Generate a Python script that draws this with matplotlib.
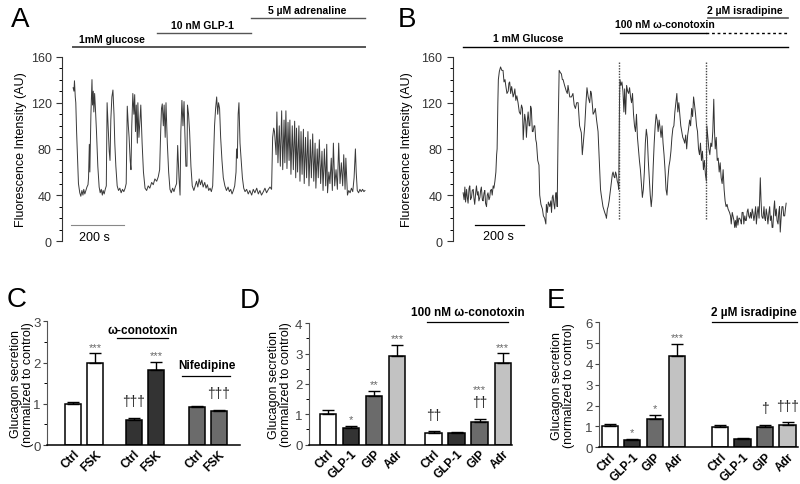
import matplotlib.pyplot as plt
from matplotlib.ticker import MultipleLocator

plt.rcParams['font.family'] = ['Liberation Sans', 'DejaVu Sans']

# ---- panel A trace: time (s) and fluorescence (AU)
a_time = [1, 4, 6, 9, 11, 14, 18, 21, 26, 30, 34, 38, 41, 45, 49, 53, 57, 59, 62, 64,
          68, 72, 74, 77, 79, 82, 85, 89, 94, 99, 103, 107, 111, 114, 118, 122, 126, 129, 133, 137,
          140, 143, 147, 151, 155, 158, 162, 167, 172, 177, 182, 187, 192, 197, 201, 205, 209, 212, 216, 219,
          222, 226, 230, 233, 236, 239, 243, 245, 249, 253, 256, 261, 266, 272, 278, 284, 290, 297, 303, 309,
          316, 322, 327, 331, 334, 337, 341, 344, 348, 351, 356, 361, 366, 371, 376, 381, 386, 391, 395, 400,
          404, 407, 411, 415, 419, 422, 426, 430, 432, 436, 440, 445, 450, 456, 461, 466, 471, 476, 481, 486,
          491, 497, 502, 507, 512, 517, 522, 527, 530, 534, 538, 542, 546, 549, 553, 557, 562, 567, 573, 579,
          585, 590, 595, 600, 605, 610, 615, 617, 620, 623, 626, 630, 634, 639, 644, 649, 655, 661, 667, 674,
          680, 686, 693, 699, 705, 711, 718, 724, 730, 737, 743, 749, 753, 757, 760, 766, 769, 773, 778, 782,
          787, 791, 796, 799, 803, 807, 811, 815, 818, 822, 827, 831, 836, 840, 843, 847, 852, 856, 860, 864,
          869, 872, 877, 881, 886, 890, 895, 899, 904, 908, 913, 916, 921, 925, 929, 934, 939, 943, 948, 953,
          957, 960, 965, 969, 974, 978, 982, 987, 992, 997, 1002, 1007, 1012, 1017, 1021, 1026, 1029, 1035, 1040, 1045,
          1050, 1055, 1060, 1065, 1068, 1072, 1077, 1082, 1087, 1092, 1097, 1101]
a_value = [133, 130, 139, 125, 120, 95, 70, 50, 42, 39, 44, 40, 45, 41, 44, 47, 49, 55, 84, 60,
           110, 140, 118, 130, 112, 128, 115, 95, 65, 47, 42, 45, 40, 44, 41, 45, 48, 120, 100, 78,
           70, 105, 125, 131, 110, 85, 65, 48, 44, 46, 42, 45, 43, 46, 50, 117, 100, 90, 70, 62,
           100, 128, 110, 127, 95, 118, 85, 120, 90, 105, 118, 85, 60, 46, 44, 48, 46, 51, 49, 54,
           52, 56, 62, 95, 115, 119, 100, 118, 90, 120, 85, 60, 45, 42, 46, 43, 47, 50, 83, 55,
           40, 95, 122, 100, 121, 95, 65, 65, 118, 110, 95, 65, 48, 44, 48, 52, 47, 54, 49, 53,
           47, 51, 46, 49, 44, 46, 43, 48, 70, 100, 115, 125, 110, 120, 115, 90, 70, 55, 48, 44,
           47, 43, 45, 41, 44, 48, 60, 80, 72, 110, 120, 85, 72, 55, 46, 43, 45, 41, 44, 40,
           45, 42, 46, 41, 44, 40, 43, 46, 42, 45, 47, 45, 90, 98, 95, 75, 112, 68, 100, 65,
           113, 62, 105, 68, 113, 63, 103, 70, 105, 58, 100, 62, 104, 55, 98, 60, 100, 52, 95, 58,
           97, 50, 90, 55, 95, 48, 88, 55, 93, 52, 85, 46, 80, 55, 88, 50, 78, 44, 80, 48,
           84, 42, 60, 50, 72, 44, 85, 48, 62, 45, 85, 50, 68, 48, 75, 45, 72, 40, 44, 42,
           46, 43, 55, 80, 60, 44, 42, 45, 43, 45, 43, 44]

# ---- panel B trace
b_time = [0, 4, 7, 10, 14, 17, 20, 24, 27, 30, 34, 37, 41, 44, 47, 51, 54, 58, 61, 64,
          68, 71, 74, 78, 81, 85, 88, 91, 95, 98, 101, 105, 108, 111, 115, 118, 122, 125, 129, 133,
          136, 138, 141, 143, 147, 152, 157, 162, 166, 170, 173, 178, 183, 186, 189, 193, 197, 200, 203, 207,
          210, 214, 218, 223, 228, 233, 237, 241, 244, 247, 250, 254, 257, 261, 264, 268, 271, 274, 277, 281,
          284, 288, 291, 295, 298, 303, 308, 311, 316, 322, 326, 331, 336, 338, 342, 346, 352, 356, 359, 362,
          365, 369, 372, 376, 379, 382, 386, 390, 395, 399, 403, 406, 412, 419, 423, 426, 433, 440, 446, 451,
          456, 461, 467, 473, 480, 484, 488, 494, 499, 503, 508, 514, 518, 521, 525, 528, 533, 537, 542, 548,
          551, 555, 558, 561, 568, 575, 580, 582, 586, 589, 593, 597, 602, 606, 609, 613, 616, 619, 622, 626,
          629, 632, 635, 637, 641, 645, 649, 653, 656, 660, 664, 668, 672, 676, 680, 684, 688, 692, 696, 700,
          704, 708, 712, 716, 720, 724, 728, 732, 736, 740, 744, 748, 752, 756, 760, 764, 768, 772, 776, 780,
          784, 788, 792, 796, 800, 804, 808, 812, 816, 820, 824, 828, 832, 836, 840, 844, 848, 852, 856, 860,
          864, 868, 872, 876, 880, 884, 888, 892, 896, 900, 904, 908, 912, 916, 920, 924, 928, 932, 936, 940,
          944, 948, 952, 956, 960, 964, 968, 972, 976, 980, 984, 988, 990, 994, 998, 1002, 1006, 1010, 1014, 1018,
          1021, 1024, 1028, 1032, 1036, 1040, 1044, 1048, 1052, 1056, 1060, 1064, 1068, 1072, 1076, 1080, 1082, 1086, 1089, 1093,
          1096, 1100, 1103, 1106, 1109, 1113, 1116, 1120, 1123, 1127, 1130, 1133, 1137, 1140, 1144, 1147, 1150, 1154, 1157, 1160,
          1164, 1167, 1171, 1174, 1177, 1181, 1184, 1188, 1191, 1195, 1198, 1202, 1205, 1207, 1210, 1213, 1216, 1218, 1222, 1225,
          1228, 1231, 1235, 1238, 1242, 1245, 1248, 1252, 1255, 1258, 1262, 1265, 1268, 1272, 1275, 1279, 1282, 1285, 1288, 1292,
          1295, 1299, 1302, 1306, 1309, 1312]
b_value = [42, 36, 47, 34, 45, 38, 33, 46, 48, 36, 38, 44, 45, 37, 32, 42, 48, 40, 43, 35,
           38, 44, 47, 36, 35, 42, 44, 33, 30, 40, 42, 36, 38, 44, 45, 40, 48, 46, 52, 60,
           75, 80, 120, 140, 147, 151, 148, 148, 138, 140, 135, 128, 130, 137, 138, 128, 134, 130, 125, 128,
           132, 122, 126, 120, 112, 110, 118, 115, 88, 100, 110, 104, 90, 105, 112, 100, 100, 117, 115, 95,
           95, 100, 100, 88, 85, 70, 66, 40, 32, 28, 22, 20, 15, 32, 25, 34, 30, 35, 25, 38,
           40, 32, 28, 42, 42, 30, 100, 148, 146, 145, 140, 140, 135, 130, 128, 135, 125, 125, 128, 118,
           115, 120, 120, 100, 94, 75, 85, 100, 120, 133, 125, 120, 130, 128, 118, 110, 112, 115, 105, 95,
           80, 60, 45, 40, 30, 25, 22, 20, 28, 30, 35, 42, 50, 58, 60, 56, 55, 60, 58, 52,
           50, 45, 120, 140, 135, 138, 130, 112, 132, 110, 135, 130, 128, 133, 125, 120, 128, 110, 100, 95,
           110, 90, 80, 70, 62, 50, 38, 45, 60, 85, 97, 90, 70, 55, 40, 30, 40, 65, 85, 100,
           110, 105, 95, 105, 98, 90, 100, 85, 75, 62, 45, 40, 55, 65, 70, 78, 90, 98, 100, 112,
           120, 128, 112, 120, 110, 100, 95, 90, 88, 85, 92, 80, 92, 98, 105, 100, 115, 108, 125, 118,
           110, 100, 95, 80, 75, 85, 70, 78, 62, 70, 58, 52, 100, 90, 80, 75, 85, 82, 95, 123,
           95, 80, 90, 70, 72, 60, 68, 55, 50, 62, 45, 35, 30, 32, 28, 26, 25, 22, 15, 25,
           22, 18, 12, 18, 12, 22, 14, 20, 20, 18, 15, 25, 25, 15, 22, 18, 18, 26, 28, 22,
           20, 25, 20, 28, 25, 18, 22, 30, 15, 25, 30, 20, 40, 55, 35, 22, 20, 20, 30, 20,
           18, 28, 22, 15, 25, 30, 18, 22, 12, 12, 28, 35, 22, 28, 18, 15, 25, 30, 8, 22,
           30, 30, 22, 22, 28, 33]
b_markers = [632, 988]   # dotted lines where drugs were added

# ---- panel C
c_labels = ['Ctrl', 'FSK', 'Ctrl', 'FSK', 'Ctrl', 'FSK']
c_mean = [1.0, 2.0, 0.6, 1.82, 0.93, 0.83]
c_err = [0.05, 0.22, 0.05, 0.2, 0.02, 0.03]
c_star = ['', '***', '', '***', '', '']
c_dagger = ['', '', '†††', '', '', '†††']

# ---- panels D and E
de_labels = ['Ctrl', 'GLP-1', 'GIP', 'Adr', 'Ctrl', 'GLP-1', 'GIP', 'Adr']
d_mean = [1.0, 0.55, 1.6, 2.92, 0.4, 0.4, 0.76, 2.68]
d_err = [0.15, 0.08, 0.18, 0.38, 0.04, 0.03, 0.09, 0.34]
d_star = ['', '*', '**', '***', '', '', '***', '***']
d_dagger = ['', '', '', '', '††', '', '††', '']
e_mean = [1.0, 0.33, 1.38, 4.38, 0.97, 0.38, 0.97, 1.05]
e_err = [0.12, 0.07, 0.19, 0.59, 0.11, 0.07, 0.11, 0.15]
e_star = ['', '*', '*', '***', '', '', '', '']
e_dagger = ['', '', '', '', '', '', '†', '†††']

WHITE, DARK, GRAY, LIGHT = 'white', '#333333', '#6b6b6b', '#c2c2c2'

fig = plt.figure(figsize=(8, 4.85), dpi=100)


def trace_axes(rect, xlim, label_x):
    ax = fig.add_axes(rect)
    ax.set_xlim(*xlim)
    ax.set_ylim(0, 160)
    for s in ['top', 'right', 'bottom']:
        ax.spines[s].set_visible(False)
    ax.spines['left'].set_color('#333333')
    ax.set_xticks([])
    ax.set_yticks([0, 40, 80, 120, 160])
    ax.yaxis.set_minor_locator(MultipleLocator(10))
    ax.tick_params(axis='y', labelsize=9, length=4, width=0.8, colors='#333333')
    ax.tick_params(axis='y', which='minor', length=2.5, width=0.7)
    ax.set_ylabel('Fluorescence Intensity (AU)', fontsize=9)
    ax.yaxis.set_label_coords(label_x, 0.5)
    return ax


# ---------- A
axA = trace_axes([0.0775, 0.5004, 0.385, 0.381], (-41, 1120), -0.114)
axA.plot(a_time, a_value, color='#3a3a3a', lw=0.7)
axA.plot([-8, 193], [14, 14], color='#888888', lw=0.8, clip_on=False)
axA.text(24, 4, '200 s', fontsize=9, va='center', ha='left')
hdrA = dict(fontsize=7.5, fontweight='bold', ha='center', va='center')
axA.plot([-1, 1101], [168, 168], color='#555555', lw=1.4, clip_on=False)
axA.text(146, 175.5, '1mM glucose', **hdrA)
axA.plot([316, 670], [180, 180], color='#555555', lw=1.0, clip_on=False)
axA.text(490, 187.5, '10 nM GLP-1', **hdrA)
axA.plot([670, 1101], [193, 193], color='#555555', lw=1.0, clip_on=False)
axA.text(882, 200, '5 µM adrenaline', **hdrA)

# ---------- B
axB = trace_axes([0.566, 0.5004, 0.421, 0.381], (-42, 1326), -0.119)
axB.plot(b_time, b_value, color='#333333', lw=0.7)
for m in b_markers:
    axB.plot([m, m], [19, 156], color='#444444', lw=1.0, ls=(0, (1, 1)))
axB.plot([49, 249], [14, 14], color='black', lw=0.9, clip_on=False)
axB.text(142, 5, '200 s', fontsize=9, va='center', ha='center')
axB.plot([0, 1319], [168, 168], color='black', lw=1.0, clip_on=False)
axB.text(264, 176, '1 mM Glucose', **hdrA)
axB.plot([636, 988], [180, 180], color='black', lw=1.0, clip_on=False)
axB.plot([988, 1319], [180, 180], color='black', lw=1.0, ls=(0, (2, 2)), clip_on=False)
axB.text(818, 188, '100 nM ω-conotoxin', **hdrA)
axB.plot([994, 1319], [193, 193], color='#555555', lw=1.2, clip_on=False)
axB.text(1143, 200, '2 µM isradipine', **hdrA)


def bar_axes(rect, xpos, xlim, ymax, mean, err, colors, labels, stars, daggers, minor, label_x):
    ax = fig.add_axes(rect)
    ax.bar(xpos, mean, width=0.72, color=colors, edgecolor='black', linewidth=1.1,
           yerr=[[0] * len(mean), err], capsize=4.5,
           error_kw=dict(elinewidth=1.0, capthick=1.0, ecolor='black'), zorder=2)
    ax.set_xlim(*xlim)
    ax.set_ylim(0, ymax)
    for s in ['top', 'right']:
        ax.spines[s].set_visible(False)
    ax.spines['left'].set_color('#555555')
    ax.spines['bottom'].set_linewidth(1.1)
    ax.set_xticks(xpos)
    ax.set_xticklabels(labels, rotation=45, ha='right', rotation_mode='anchor',
                       fontsize=8.5, fontweight='bold')
    ax.tick_params(axis='x', length=0, pad=2)
    ax.set_yticks(range(0, ymax + 1))
    if minor:
        ax.yaxis.set_minor_locator(MultipleLocator(0.5))
    ax.tick_params(axis='y', labelsize=9.5, length=3, width=0.8, pad=1.5, colors='#444444')
    ax.tick_params(axis='y', which='minor', length=2, width=0.7)
    ax.set_ylabel('Glucagon secretion\n(normalized to control)', fontsize=9, linespacing=1.0)
    ax.yaxis.set_label_coords(label_x, 0.5)
    for x, m, e, s, d in zip(xpos, mean, err, stars, daggers):
        off = 0
        if d:
            ax.annotate(d, (x, m + e), xytext=(0, 7), textcoords='offset points',
                        ha='center', va='bottom', fontsize=10, color='#222222')
            off = 17
        if s:
            ax.annotate(s, (x, m + e), xytext=(0, 1 + off), textcoords='offset points',
                        ha='center', va='bottom', fontsize=8, color='#666666')
    return ax


hdr = dict(fontsize=8.5, fontweight='bold', ha='center', va='center')

# ---------- C
c_x = [0, 1, 2.77, 3.77, 5.64, 6.64]
axC = bar_axes([0.0584, 0.0804, 0.2417, 0.2551], c_x, (-1.2, 7.6), 3, c_mean, c_err,
               [WHITE, WHITE, DARK, DARK, GRAY, GRAY], c_labels, c_star, c_dagger, True, -0.068)
axC.plot([2.0, 4.32], [2.6, 2.6], color='black', lw=0.9, clip_on=False)
axC.text(3.16, 2.78, 'ω-conotoxin', **hdr)
axC.plot([4.95, 7.14], [1.68, 1.68], color='black', lw=0.9, clip_on=False)
axC.text(6.1, 1.95, 'Nifedipine', **hdr)

# ---------- D
d_x = [0, 1, 2, 3, 4.6, 5.6, 6.6, 7.6]
axD = bar_axes([0.386, 0.0811, 0.254, 0.2502], d_x, (-0.83, 8.0), 4, d_mean, d_err,
               [WHITE, DARK, GRAY, LIGHT] * 2, de_labels, d_star, d_dagger, True, -0.084)
axD.plot([4.29, 7.83], [4.04, 4.04], color='black', lw=0.9, clip_on=False)
axD.text(6.09, 4.37, '100 nM ω-conotoxin', **hdr)

# ---------- E
e_x = [0, 1, 2, 3, 4.9, 5.9, 6.9, 7.9]
axE = bar_axes([0.749, 0.0757, 0.249, 0.2577], e_x, (-0.47, 8.38), 6, e_mean, e_err,
               [WHITE, DARK, GRAY, LIGHT] * 2, de_labels, e_star, e_dagger, False, -0.12)
axE.plot([4.54, 8.32], [6.0, 6.0], color='black', lw=0.9, clip_on=False)
axE.text(6.42, 6.5, '2 µM isradipine', **hdr)

# panel letters
for lab, x, y in [('A', 0.014, 0.944), ('B', 0.497, 0.944), ('C', 0.008, 0.367),
                  ('D', 0.300, 0.365), ('E', 0.683, 0.365)]:
    fig.text(x, y, lab, fontsize=20, va='baseline')

fig.savefig('out.png', dpi=100)
